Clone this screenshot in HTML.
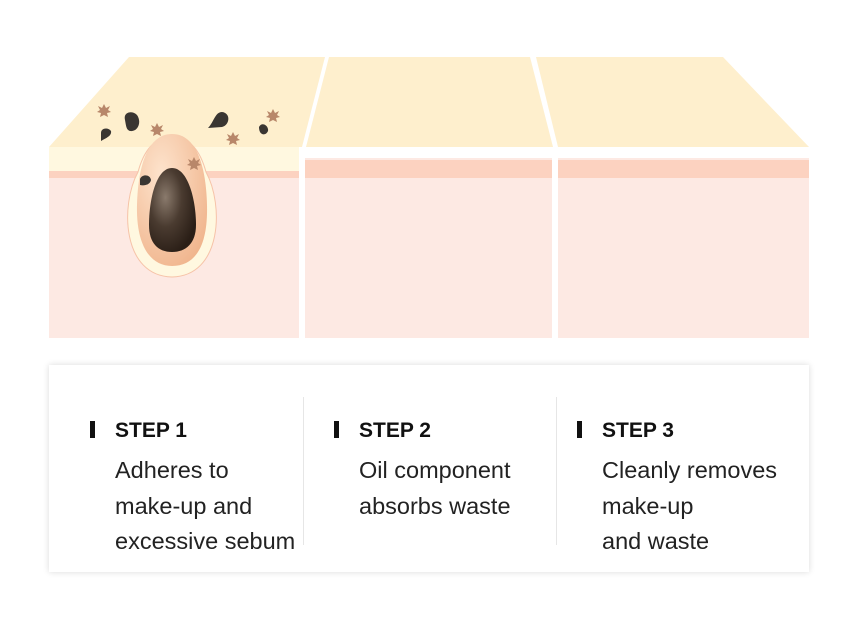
<!DOCTYPE html>
<html><head><style>
body{margin:0;width:860px;height:627px;background:#fff;position:relative;overflow:hidden;font-family:"Liberation Sans",sans-serif}
.card{position:absolute;left:49px;top:365px;width:760px;height:207px;background:#fff;box-shadow:0 0 6px rgba(0,0,0,0.15)}
.div{position:absolute;top:32px;width:1px;height:148px;background:#e6e6e6}
.col{position:absolute;top:0}
.mk{position:absolute;left:0;top:56px;width:5px;height:17px;background:#111}
.st{position:absolute;left:25px;top:54px;font-weight:bold;font-size:21px;color:#111;white-space:nowrap}
.tx{position:absolute;left:25px;top:88px;font-size:23.5px;line-height:35.5px;color:#222;white-space:nowrap}
</style></head><body>
<svg width="860" height="340" style="position:absolute;left:0;top:0">
<defs>
<radialGradient id="pk" cx="0.35" cy="0.3" r="0.8"><stop offset="0" stop-color="#fde3cc"/><stop offset="1" stop-color="#f0b48c"/></radialGradient>
<radialGradient id="sd" cx="0.35" cy="0.35" r="0.7"><stop offset="0" stop-color="#8a7a6c"/><stop offset="0.5" stop-color="#4a3b30"/><stop offset="1" stop-color="#2a1e16"/></radialGradient>
<polygon id="star" points="0,-7 2,-3 6,-5 4,-1 7,1 3,2 4,6 0,4 -4,6 -3,2 -7,1 -4,-1 -6,-5 -2,-3" />
</defs>
<polygon points="129,57 325,57 302,147 49,147" fill="#feefcd"/>
<polygon points="329,57 530,57 553,147 306,147" fill="#feefcd"/>
<polygon points="536,57 723,57 809,147 558,147" fill="#feefcd"/>
<rect x="49" y="147" width="250" height="24" fill="#fff8e0"/>
<rect x="49" y="171" width="250" height="7" fill="#fcd2c0"/>
<rect x="49" y="178" width="250" height="160" fill="#fde9e3"/>
<rect x="305" y="158" width="247" height="2" fill="#fde9e3"/>
<rect x="305" y="160" width="247" height="18" fill="#fcd2c0"/>
<rect x="305" y="178" width="247" height="160" fill="#fde9e3"/>
<rect x="558" y="158" width="251" height="2" fill="#fde9e3"/>
<rect x="558" y="160" width="251" height="18" fill="#fcd2c0"/>
<rect x="558" y="178" width="251" height="160" fill="#fde9e3"/>
<path d="M138,172 C120,205 122,276 172,277 C222,276 224,205 206,172 C200,150 190,138 172,136 C154,138 144,150 138,172 Z" fill="#fff8e0" stroke="#f6c3a8" stroke-width="1"/>
<path d="M172,134 C148,134 138,165 137,205 C136,245 150,266 172,266 C196,266 208,245 207,205 C206,165 196,134 172,134 Z" fill="url(#pk)"/>
<path d="M172,168 C156,168 149,200 149,225 C149,243 158,252 172,252 C186,252 196,243 196,225 C196,200 188,168 172,168 Z" fill="url(#sd)"/>
<g fill="#3a3632">
<path d="M125,120 C123,112 132,110 137,115 C142,122 138,132 130,131 C126,130 126,125 125,120Z"/>
<path d="M101,133 C101,128 108,127 111,131 C112,136 106,138 101,141Z"/>
<path d="M208,128 C214,122 215,112 222,112 C231,113 230,125 222,127Z"/>
<path d="M259,127 C262,121 269,126 268,131 C266,136 259,136 259,127Z"/>
<path d="M140,179 C142,174 150,174 151,180 C150,185 144,186 140,185Z"/>
</g>
<g fill="#b8876a">
<use href="#star" x="104" y="111"/><use href="#star" x="157" y="130"/><use href="#star" x="233" y="139"/><use href="#star" x="273" y="116"/><use href="#star" x="194" y="164"/>
</g>
</svg>
<div class="card">
<div class="div" style="left:254px"></div>
<div class="div" style="left:507px"></div>
<div class="col" style="left:41px"><div class="mk"></div><div class="st">STEP 1</div><div class="tx">Adheres to<br>make-up and<br>excessive sebum</div></div>
<div class="col" style="left:285px"><div class="mk"></div><div class="st">STEP 2</div><div class="tx">Oil component<br>absorbs waste</div></div>
<div class="col" style="left:528px"><div class="mk"></div><div class="st">STEP 3</div><div class="tx">Cleanly removes<br>make-up<br>and waste</div></div>
</div>
</body></html>
